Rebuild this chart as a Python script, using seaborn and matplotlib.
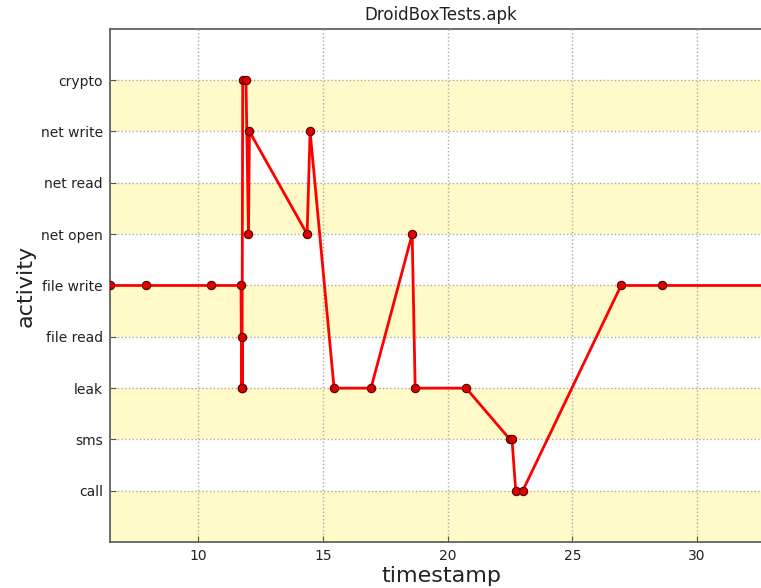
import matplotlib
matplotlib.use("Agg")
import matplotlib.pyplot as plt
import seaborn as sns
import pandas as pd

activities = ["call", "sms", "leak", "file read", "file write",
              "net open", "net read", "net write", "crypto"]

timestamps = [6.47, 7.92, 10.52, 11.72, 11.75, 11.78, 11.76, 11.79, 11.92,
              12.02, 12.06, 14.37, 14.49, 15.45, 16.93, 18.58, 18.70, 20.74,
              22.50, 22.58, 22.73, 23.01, 26.95, 28.60, 33.0]
events = ["file write", "file write", "file write", "file write", "leak",
          "file read", "leak", "crypto", "crypto", "net open", "net write",
          "net open", "net write", "leak", "leak", "net open", "leak", "leak",
          "sms", "sms", "call", "call", "file write", "file write", "file write"]

df = pd.DataFrame({"timestamp": timestamps,
                   "level": [activities.index(e) for e in events]})

sns.set_style("white")
fig = plt.figure(figsize=(7.61, 5.88), dpi=100)
ax = fig.add_axes([0.1445, 0.078, 0.870, 0.873])

for i in range(0, len(activities), 2):
    ax.axhspan(i - 1, i, color="#fffac8", zorder=0, lw=0)

sns.lineplot(data=df, x="timestamp", y="level", sort=False, estimator=None,
             color="red", lw=2, marker="o", markersize=6,
             markerfacecolor="#dd0000", markeredgecolor="#550000",
             markeredgewidth=0.8, ax=ax, zorder=3)
for ln in ax.lines:
    ln.set_clip_on(True)

ax.set_xlim(min(timestamps), max(timestamps))
ax.set_ylim(-1, len(activities))
ax.set_xticks([10, 15, 20, 25, 30])
ax.set_yticks(range(len(activities)))
ax.set_yticklabels(activities)
ax.grid(True, linestyle=":", color="#aaaaaa", lw=1)
ax.set_axisbelow(False)
for s in ax.spines.values():
    s.set_color("#555555")
    s.set_linewidth(1.2)
ax.tick_params(axis="both", labelsize=10, length=4, direction="in",
               colors="#555555", labelcolor="#222222", left=True, bottom=True,
               pad=5)
ax.set_xlabel("timestamp", fontsize=16, color="#222222", labelpad=2)
ax.set_ylabel("activity", fontsize=16, color="#222222")
ax.set_title("DroidBoxTests.apk", fontsize=12, color="#222222")

fig.savefig("out.png", dpi=100)
